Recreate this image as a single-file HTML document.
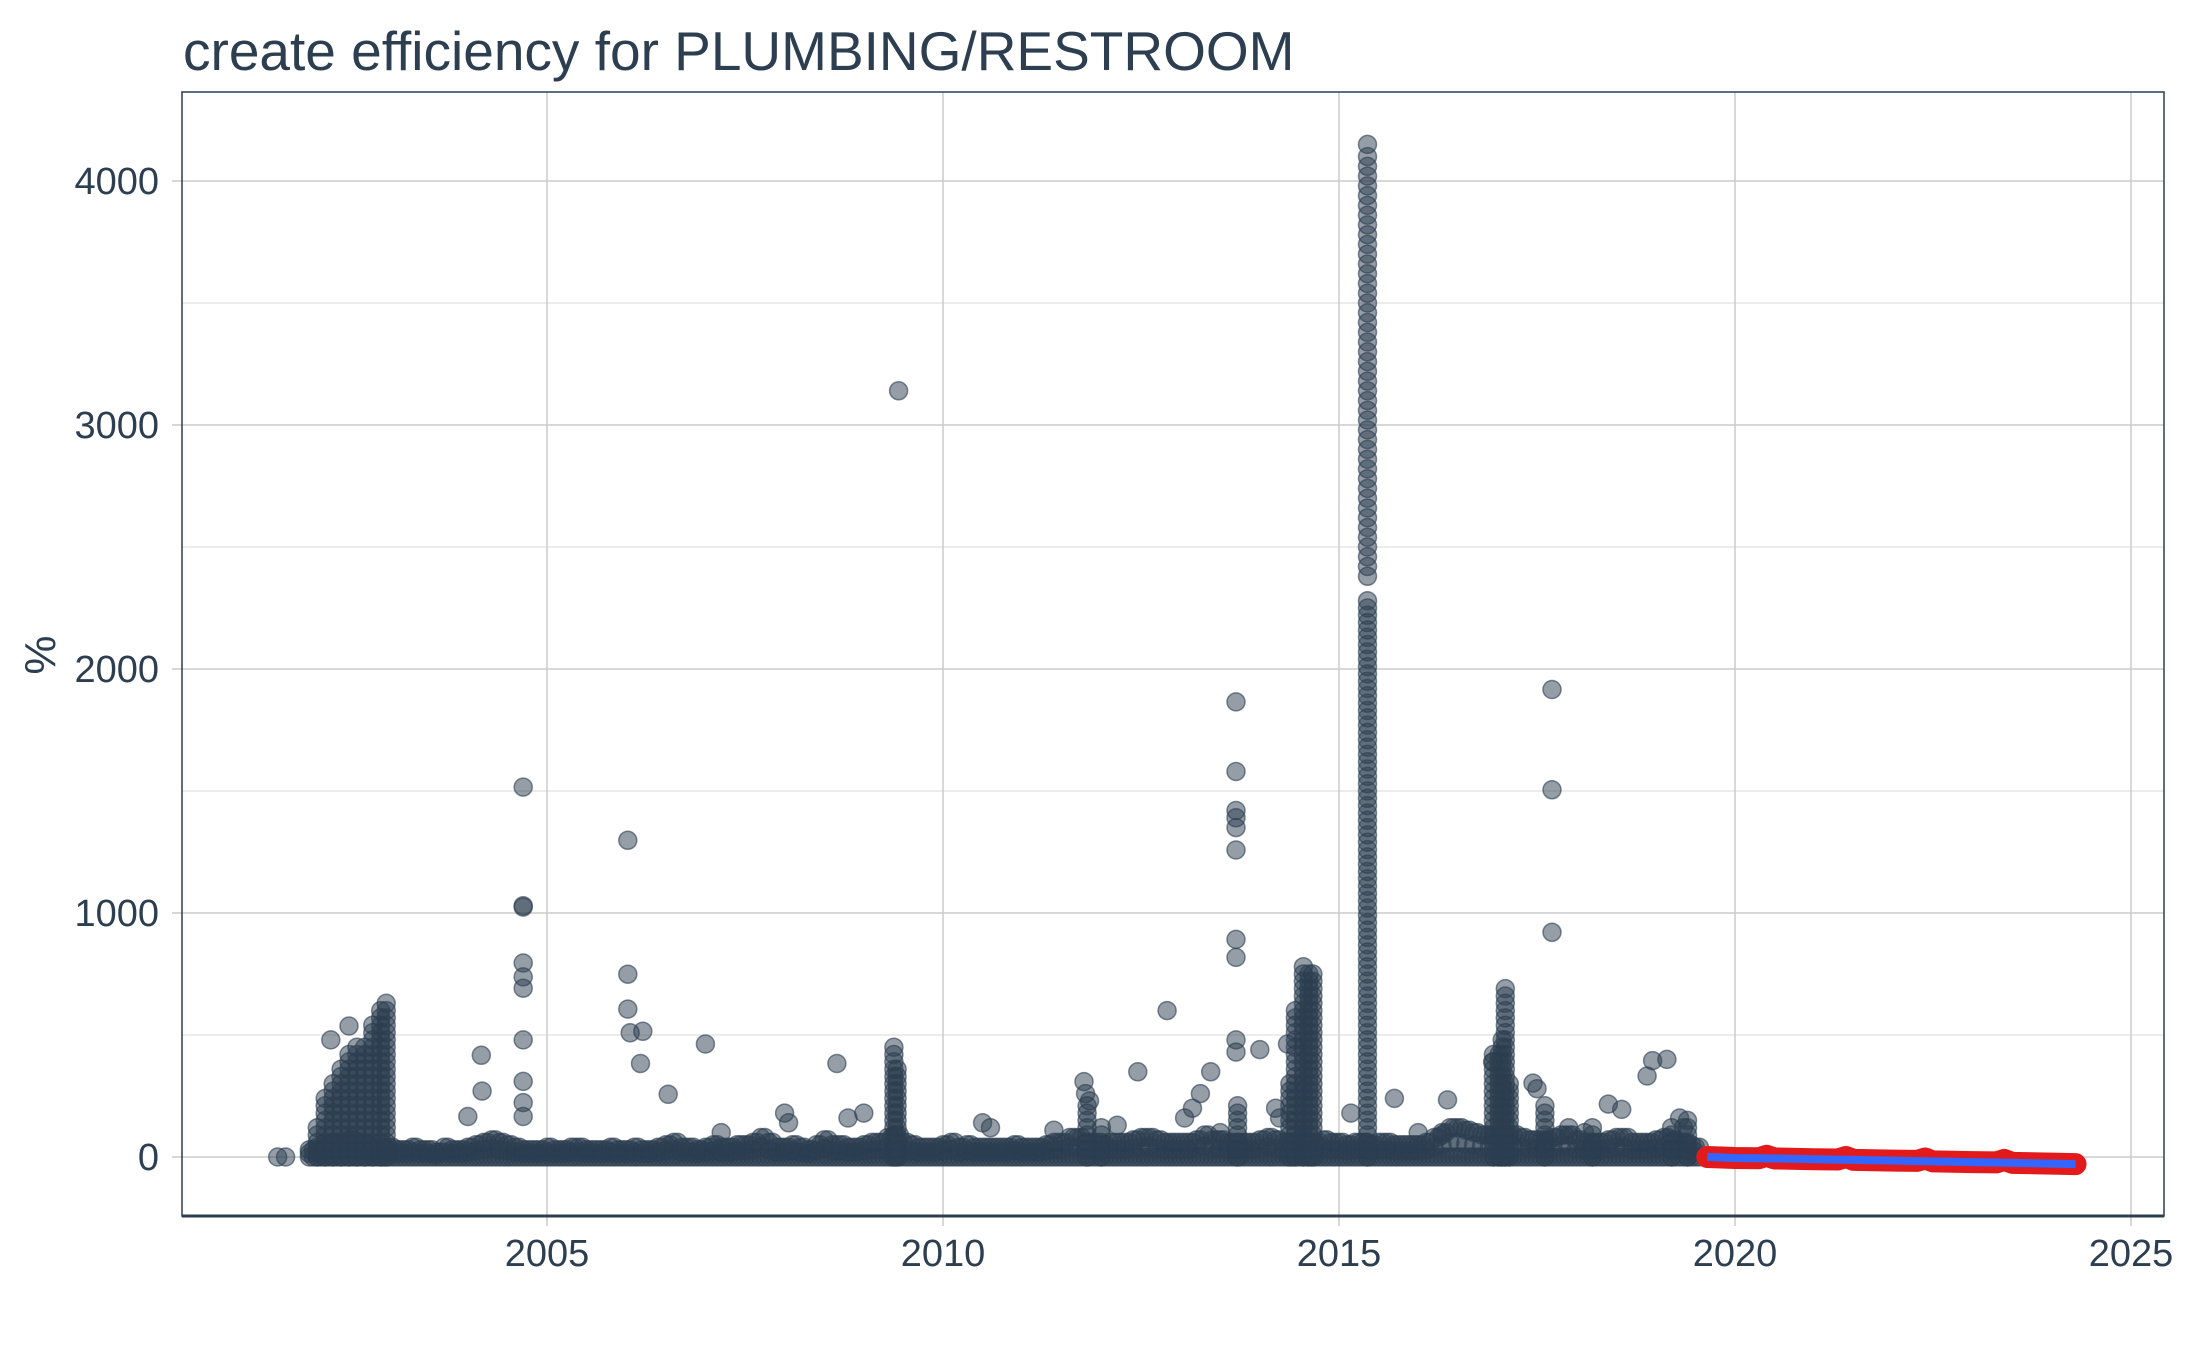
<!DOCTYPE html>
<html><head><meta charset="utf-8">
<style>
html,body{margin:0;padding:0;background:#fff;}
svg{display:block;font-family:"Liberation Sans",Arial,sans-serif;}
</style></head>
<body>
<svg id="chart" width="2187" height="1350" viewBox="0 0 2187 1350" xmlns="http://www.w3.org/2000/svg">
<rect width="2187" height="1350" fill="#fff"/>
<text x="183" y="70" font-size="55" fill="#2c3e50">create efficiency for PLUMBING/RESTROOM</text>
<g id="grid"></g>
<g id="pts"></g>
<g id="fc"></g>
<rect x="182" y="92" width="1982" height="1124" fill="none" stroke="#2c3e50" stroke-width="1.5"/>
<line x1="182" y1="1216" x2="2164" y2="1216" stroke="#2c3e50" stroke-width="3"/>
<g id="axes"></g>
<text transform="translate(55,655) rotate(-90)" text-anchor="middle" font-size="44" fill="#2c3e50">%</text>
</svg>
<script>
const xTicks = [2005, 2010, 2015, 2020, 2025];
const yTicks = [0, 1000, 2000, 3000, 4000];
const yMinor = [500, 1500, 2500, 3500];
// outlier points
const ptsX = [2001.6,2001.7,2009.44,2013.7,2013.7,2013.7,2013.7,2013.7,2013.7,2013.7,2013.7,2013.7,2013.7,2017.69,2017.69,2017.69,2004.7,2004.7,2004.7,2004.7,2004.7,2004.7,2004.7,2004.7,2004.7,2004.7,2006.02,2006.02,2006.02,2006.05,2006.21,2006.18,2007.0,2006.53,2004.17,2004.18,2004.0,2008.66,2012.83,2012.46,2013.38,2018.96,2019.14,2018.89,2016.94,2017.45,2002.27,2002.5,2016.37,2015.7,2014.35,2018.4,2018.57,2011.78,2011.8,2011.85,2013.05,2013.15,2013.25,2008.0,2008.05,2008.8,2009.0,2014.0,2015.15,2017.9,2018.1,2019.3,2019.35,2007.2,2010.5,2010.6,2011.4,2012.2,2013.5,2014.2,2014.25,2016.0,2016.3,2017.5];
const ptsY = [0,0,3140,1865,1580,1420,1390,1350,1258,892,818,480,430,1916,1505,921,1516,1030,1024,795,738,692,480,310,223,166,1298,749,606,509,515,383,463,257,417,270,166,383,600,349,349,395,400,332,389,303,480,537,234,240,463,217,195,309,260,230,160,200,260,180,140,160,180,440,180,120,100,160,120,100,140,120,110,130,100,200,160,100,90,280];
// dense columns (stacked from 0 to max)
const colX = [2002.1,2002.2,2002.3,2002.4,2002.5,2002.6,2002.7,2002.8,2002.9,2002.97,2015.36,2014.38,2014.45,2014.55,2014.62,2014.67,2017.02,2017.06,2017.1,2017.15,2009.38,2009.42,2011.82,2013.72,2012.0,2017.6,2016.95,2019.4,2019.2,2018.2];
const colMax = [120,260,300,360,420,460,470,540,600,640,2280,300,600,780,770,760,420,480,700,300,460,380,230,220,140,230,420,160,120,140];
// upper part of the 2015 spike
const spikeX = 2015.36;
const spikeVals = [2380,2420,2460,2500,2540,2580,2620,2660,2700,2740,2780,2820,2860,2900,2940,2980,3020,3060,3100,3140,3180,3220,3260,3300,3340,3380,3420,3460,3500,3540,3580,3620,3660,3700,3740,3780,3820,3860,3900,3940,3980,4020,4060,4100,4150];
// base band heights, one per 0.1 year from 2002.0
const baseStart = 2002.0;
const baseH = [30,40,50,60,60,70,60,50,40,40,40,30,30,40,30,30,20,40,30,30,40,50,60,70,60,50,40,30,30,30,40,30,30,40,40,30,30,30,40,30,30,40,30,30,40,50,60,40,40,30,40,50,40,40,50,50,60,80,60,40,40,50,40,30,50,70,50,50,40,40,50,60,60,80,90,60,50,40,40,40,50,60,40,50,40,40,40,40,40,50,40,40,40,50,60,60,80,80,60,60,50,60,60,60,70,80,80,70,60,60,60,60,70,90,70,70,60,60,60,60,70,80,70,60,60,70,60,60,70,60,60,50,60,60,50,60,60,50,50,50,50,60,80,100,120,120,110,100,90,90,80,80,90,80,70,70,70,80,90,90,70,60,60,60,70,80,80,60,60,60,70,80,70,60,50,40];
// forecast
const fcX = [2019.65,2020.0,2020.5,2021.0,2021.5,2022.0,2022.5,2023.0,2023.5,2024.0,2024.3];
const fcY = [0,-4,-6,-9,-12,-15,-18,-21,-24,-27,-29];
const redX = [2019.65,2020.0,2020.3,2020.4,2020.5,2021.0,2021.3,2021.4,2021.5,2022.0,2022.3,2022.4,2022.5,2023.0,2023.3,2023.4,2023.5,2024.0,2024.3];
const redY = [0,-4,-5,5,-6,-9,-10,0,-12,-15,-16,-6,-18,-21,-22,-12,-24,-27,-29];

const NS = "http://www.w3.org/2000/svg";
const L=182,R=2164,T=92,B=1216;
function X(y){return 547+(y-2005)*79.2;}
function Y(v){return 1157-v*0.244;}
function mk(tag,attrs,parent){const e=document.createElementNS(NS,tag);for(const k in attrs)e.setAttribute(k,attrs[k]);parent.appendChild(e);return e;}
const grid=document.getElementById('grid'),axes=document.getElementById('axes'),pts=document.getElementById('pts'),fc=document.getElementById('fc');
yMinor.forEach(v=>{const e=mk('line',{x1:L,x2:R,y1:Y(v),y2:Y(v),stroke:'#d9d9d9','stroke-width':1},grid);

});
yTicks.forEach(v=>{const e=mk('line',{x1:L-10,x2:R,y1:Y(v),y2:Y(v),stroke:'#cccccc','stroke-width':1.5},grid);


const t=mk('text',{x:159,y:Y(v)+13,'text-anchor':'end','font-size':38,fill:'#2c3e50'},axes);t.textContent=v;

});
xTicks.forEach(v=>{const e=mk('line',{x1:X(v),x2:X(v),y1:T,y2:B+10,stroke:'#cccccc','stroke-width':1.5},grid);


const t=mk('text',{x:X(v),y:1266,'text-anchor':'middle','font-size':38,fill:'#2c3e50'},axes);t.textContent=v;

});
function dot(x,v){const c=mk('circle',{cx:X(x).toFixed(1),cy:Y(v).toFixed(1),r:9,fill:'rgba(44,62,80,0.5)',stroke:'rgba(44,62,80,0.6)','stroke-width':1.5},pts);

}
baseH.forEach((h,i)=>{const x=baseStart+i*0.1;dot(x,0);dot(x+0.05,0);dot(x,h/2);dot(x+0.05,h);dot(x,h);});
colX.forEach((x,i)=>{for(let v=0;v<=colMax[i];v+=30)dot(x,v);});
spikeVals.forEach(v=>dot(spikeX,v));
ptsX.forEach((x,i)=>dot(x,ptsY[i]));
const rp=mk('polyline',{points:redX.map((x,i)=>X(x)+','+Y(redY[i])).join(' '),fill:'none',stroke:'#e31a1c','stroke-width':22,'stroke-linejoin':'round','stroke-linecap':'round'},fc);


const bp=mk('polyline',{points:fcX.map((x,i)=>X(x)+','+Y(fcY[i])).join(' '),fill:'none',stroke:'#3366ff','stroke-width':8},fc);


</script>
</body></html>
